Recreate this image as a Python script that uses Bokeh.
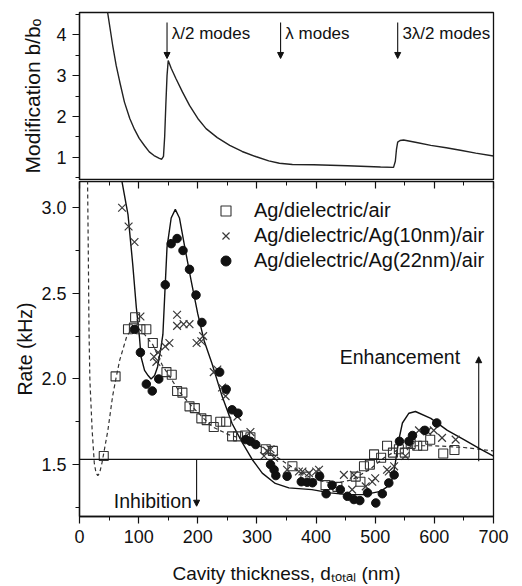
from bokeh.plotting import figure
from bokeh.layouts import column
from bokeh.models import (Range1d, LinearAxis, SingleIntervalTicker, PrintfTickFormatter,
                          Span, Arrow, NormalHead, Label, Legend, LegendItem)
from bokeh.embed import file_html
from bokeh.resources import INLINE

# ---- calculated modification of the decay rate (upper panel) ----
mod_nm = [47, 56, 62, 68, 76, 85, 93, 101, 110, 118, 126, 135, 139, 142, 144, 146, 148, 150,
          155, 163, 174, 186, 200, 214, 233, 254, 275, 299, 320, 338, 360, 396, 453, 509, 531,
          534, 536, 538, 542, 548, 570, 594, 620, 644, 670, 700]
mod_ratio = [4.6, 3.75, 3.25, 2.85, 2.35, 1.95, 1.68, 1.46, 1.28, 1.13, 1.04, 0.97, 0.95, 1.02,
             1.5, 2.3, 3.0, 3.37, 3.18, 2.93, 2.6, 2.27, 1.95, 1.70, 1.48, 1.29, 1.14, 1.01,
             0.91, 0.85, 0.82, 0.815, 0.79, 0.76, 0.75, 0.9, 1.2, 1.37, 1.41, 1.42, 1.36, 1.29,
             1.23, 1.17, 1.10, 1.03]

# ---- measured rates (lower panel) ----
sq_nm = [41, 61, 82, 92, 94, 103, 113, 124, 147, 156, 165, 174, 186, 195, 206, 215, 227, 238,
         248, 258, 268, 280, 289, 315, 327, 360, 382, 416, 436, 467, 475, 481, 491, 498, 510,
         520, 530, 540, 550, 560, 571, 581, 593, 615, 634]
sq_rate = [1.55, 2.015, 2.29, 2.30, 2.36, 2.29, 2.29, 2.21, 2.04, 2.025, 1.93, 1.92, 1.84, 1.83,
           1.77, 1.76, 1.72, 1.75, 1.75, 1.665, 1.665, 1.67, 1.66, 1.59, 1.58, 1.49, 1.43, 1.38,
           1.37, 1.43, 1.40, 1.49, 1.50, 1.56, 1.54, 1.61, 1.57, 1.59, 1.57, 1.62, 1.61, 1.61,
           1.645, 1.565, 1.585]

x10_nm = [72, 83, 93, 103, 126, 130, 133, 145, 152, 165, 165, 176, 186, 198, 206, 209, 227, 233,
          241, 247, 267, 289, 312, 317, 323, 329, 351, 371, 377, 388, 400, 405, 447, 461, 464,
          484, 495, 500, 520, 523, 532, 551, 560, 574, 588, 599, 613, 636]
x10_rate = [3.00, 2.89, 2.80, 2.365, 2.13, 2.10, 2.155, 2.19, 2.21, 2.375, 2.31, 2.32, 2.32,
            2.21, 2.22, 2.25, 2.04, 2.055, 1.95, 1.90, 1.78, 1.69, 1.55, 1.58, 1.59, 1.54, 1.47,
            1.46, 1.46, 1.45, 1.46, 1.47, 1.44, 1.354, 1.44, 1.373, 1.40, 1.42, 1.47, 1.46,
            1.49, 1.55, 1.607, 1.70, 1.694, 1.70, 1.656, 1.646]

x22_nm = [93, 103, 113, 123, 134, 145, 155, 165, 175, 186, 197, 207, 237, 248, 258, 268, 281,
          289, 298, 323, 329, 332, 351, 375, 385, 394, 406, 417, 427, 441, 453, 464, 474, 487,
          501, 512, 523, 532, 541, 557, 563, 584, 604]
x22_rate = [2.29, 2.155, 1.97, 1.93, 2.00, 2.55, 2.79, 2.82, 2.75, 2.64, 2.49, 2.33, 2.04, 1.94,
            1.82, 1.80, 1.646, 1.636, 1.617, 1.50, 1.47, 1.436, 1.432, 1.40, 1.397, 1.394,
            1.432, 1.33, 1.38, 1.354, 1.315, 1.296, 1.29, 1.335, 1.276, 1.33, 1.393, 1.44,
            1.636, 1.636, 1.67, 1.70, 1.743]

# ---- model curves (lower panel) ----
fit22_nm = [71, 72, 82, 90, 96, 101.5, 104, 110, 116, 121, 127, 132, 138, 141, 144, 148, 155,
            162, 169, 178, 189, 200, 211, 224, 241, 258, 275, 292, 309, 331, 354, 393, 424,
            453, 481, 509, 520, 526, 530, 534, 540, 546, 557, 568, 594, 622, 650, 678, 700]
fit22_rate = [3.2, 3.15, 2.96, 2.67, 2.42, 2.24, 2.13, 2.05, 2.02, 2.0, 2.02, 2.07, 2.19, 2.26,
              2.48, 2.77, 2.94, 2.99, 2.94, 2.77, 2.57, 2.38, 2.22, 2.09, 1.90, 1.74, 1.63,
              1.53, 1.45, 1.39, 1.364, 1.354, 1.335, 1.325, 1.325, 1.344, 1.37, 1.39, 1.43,
              1.51, 1.646, 1.743, 1.80, 1.81, 1.77, 1.70, 1.646, 1.59, 1.55]

air_fit_nm = [13.5, 15, 16, 17.5, 21.4, 25, 28, 31, 34, 38, 48, 56, 62, 68, 80, 90, 98, 110,
              124, 140, 155, 170, 190, 210, 225, 252, 281, 310, 340, 370, 400, 430, 460, 490,
              515, 540, 570, 600, 650, 700]
air_fit_rate = [3.2, 2.7, 2.3, 2.0, 1.70, 1.51, 1.45, 1.436, 1.45, 1.51, 1.70, 1.90, 2.01, 2.11,
                2.25, 2.30, 2.30, 2.26, 2.20, 2.08, 2.00, 1.92, 1.84, 1.77, 1.72, 1.675, 1.645,
                1.60, 1.53, 1.46, 1.41, 1.39, 1.41, 1.47, 1.54, 1.59, 1.61, 1.61, 1.60, 1.58]

free_space_rate = 1.53

series_labels = ["Ag/dielectric/air", "Ag/dielectric/Ag(10nm)/air", "Ag/dielectric/Ag(22nm)/air"]
mode_labels = ["\u03bb/2 modes", "\u03bb modes", "3\u03bb/2 modes"]
mode_nm = [148, 340, 538]

FONT = "Liberation Sans"
INK = "#111111"


def style_axis(ax, interval, minor, fmt):
    ax.ticker = SingleIntervalTicker(interval=interval, num_minor_ticks=minor)
    ax.formatter = PrintfTickFormatter(format=fmt)
    ax.axis_line_width = 1.3
    ax.axis_line_color = INK
    ax.major_tick_line_color = INK
    ax.minor_tick_line_color = INK
    ax.major_tick_line_width = 1.2
    ax.minor_tick_line_width = 1.0
    ax.major_tick_in = 0
    ax.major_tick_out = 7
    ax.minor_tick_in = 0
    ax.minor_tick_out = 4
    ax.major_label_text_font = FONT
    ax.major_label_text_font_size = "18px"
    ax.major_label_text_color = INK
    ax.major_label_standoff = 6
    ax.axis_label_text_font = FONT
    ax.axis_label_text_font_style = "normal"
    ax.axis_label_text_color = INK


# ---------------- upper panel ----------------
top = figure(width=522, height=180, x_range=Range1d(0, 700), y_range=Range1d(0.453, 4.547),
             output_backend="svg", toolbar_location=None, x_axis_location=None,
             min_border_left=79, min_border_right=29, min_border_top=12, min_border_bottom=1)
top.grid.visible = False
top.outline_line_color = INK
top.outline_line_width = 1.3
style_axis(top.yaxis[0], 1, 2, "%d")
top.yaxis[0].axis_label = "Modification b/b\u2092"
top.yaxis[0].axis_label_text_font_size = "21px"
top.yaxis[0].axis_label_standoff = 9

top.line(mod_nm, mod_ratio, line_color="#222222", line_width=1.4)

for txt, nm in zip(mode_labels, mode_nm):
    top.add_layout(Arrow(end=NormalHead(size=6, fill_color=INK, line_color=INK),
                         x_start=nm, y_start=4.30, x_end=nm, y_end=3.42,
                         line_color=INK, line_width=1.1))
    top.add_layout(Label(x=nm + 8, y=4.02, text=txt, text_font=FONT, text_font_size="17px",
                         text_color=INK, text_baseline="alphabetic"))

# ---------------- lower panel ----------------
bot = figure(width=522, height=406, x_range=Range1d(0, 700), y_range=Range1d(1.197, 3.153),
             output_backend="svg", toolbar_location=None,
             min_border_left=79, min_border_right=29, min_border_top=1, min_border_bottom=69)
bot.grid.visible = False
bot.outline_line_color = INK
bot.outline_line_width = 1.3
style_axis(bot.xaxis[0], 100, 2, "%d")
style_axis(bot.yaxis[0], 0.5, 2, "%.1f")
bot.xaxis[0].axis_label = "Cavity thickness, d\u209c\u2092\u209c\u2090\u2097 (nm)"
bot.xaxis[0].axis_label_text_font_size = "19px"
bot.xaxis[0].axis_label_standoff = 17
bot.yaxis[0].axis_label = "Rate (kHz)"
bot.yaxis[0].axis_label_text_font_size = "19.5px"
bot.yaxis[0].axis_label_standoff = 2

# mirrored ticks along the upper edge, pointing inward, without labels
top_ticks = LinearAxis(ticker=SingleIntervalTicker(interval=100, num_minor_ticks=2),
                       major_label_text_font_size="1px", major_label_text_color=None,
                       major_label_standoff=0,
                       major_tick_in=7, major_tick_out=0, minor_tick_in=4, minor_tick_out=0,
                       axis_line_color=None, major_tick_line_color=INK,
                       minor_tick_line_color=INK, major_tick_line_width=1.2)
bot.add_layout(top_ticks, "above")

bot.add_layout(Span(location=free_space_rate, dimension="width", line_color=INK,
                    line_width=1.3))

bot.line(air_fit_nm, air_fit_rate, line_color="#333333", line_width=1.2, line_dash="4 3")
bot.line(fit22_nm, fit22_rate, line_color=INK, line_width=1.4)

r_sq = bot.scatter(sq_nm, sq_rate, marker="square", size=9, fill_color=None,
                   line_color="#333333", line_width=1.1)
r_x = bot.scatter(x10_nm, x10_rate, marker="x", size=11, line_color="#3a3a3a", line_width=1.2)
r_ci = bot.scatter(x22_nm, x22_rate, marker="circle", size=8.5, fill_color=INK, line_color=INK)

legend = Legend(items=[LegendItem(label=series_labels[0], renderers=[r_sq]),
                       LegendItem(label=series_labels[1], renderers=[r_x]),
                       LegendItem(label=series_labels[2], renderers=[r_ci])],
                location=(134, 243), border_line_color=None, background_fill_alpha=0,
                padding=0, margin=0, spacing=0, glyph_width=25, glyph_height=25,
                label_height=25, label_standoff=16, label_text_font=FONT,
                label_text_font_size="20px", label_text_color=INK)
bot.add_layout(legend)

bot.add_layout(Label(x=440, y=2.128, text="Enhancement", text_font=FONT, text_font_size="19.5px",
                     text_color=INK, text_baseline="alphabetic"))
bot.add_layout(Arrow(end=NormalHead(size=6, fill_color=INK, line_color=INK),
                     x_start=675, y_start=1.52, x_end=675, y_end=2.13,
                     line_color=INK, line_width=1.1))
bot.add_layout(Label(x=58, y=1.286, text="Inhibition", text_font=FONT, text_font_size="19.5px",
                     text_color=INK, text_baseline="alphabetic"))
bot.add_layout(Arrow(end=NormalHead(size=6, fill_color=INK, line_color=INK),
                     x_start=198, y_start=1.53, x_end=198, y_end=1.257,
                     line_color=INK, line_width=1.1))

page = column(top, bot, spacing=0)
open("out.html", "w").write(file_html(page, INLINE))
